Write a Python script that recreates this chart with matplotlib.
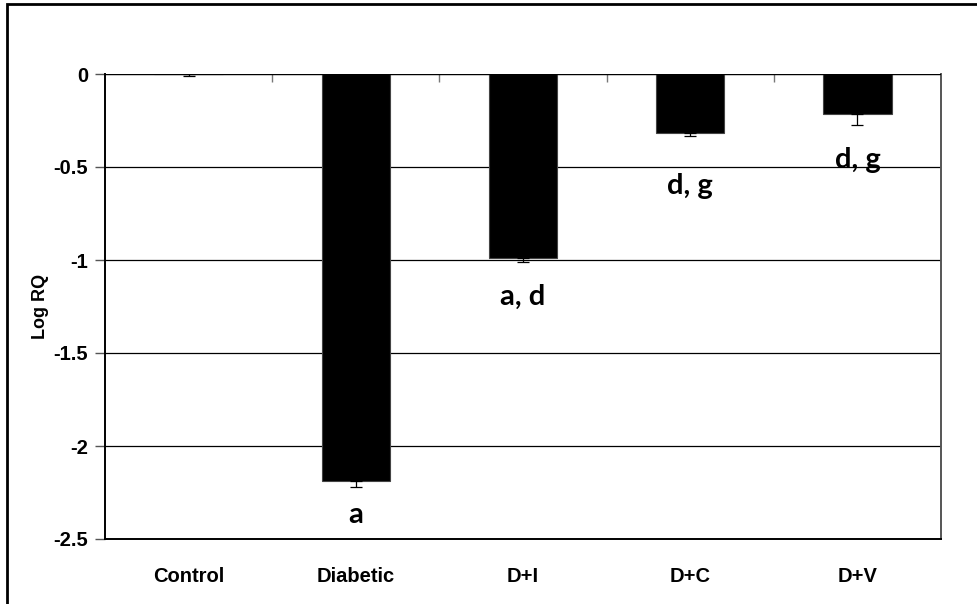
import numpy as np
import matplotlib.pyplot as plt
from matplotlib.patches import Rectangle

groups = ["Control", "Diabetic", "D+I", "D+C", "D+V"]
log_rq = [0.0, -2.19, -0.99, -0.315, -0.215]
err = [0.01, 0.03, 0.02, 0.02, 0.06]
sig_labels = ["", "a", "a, d", "d, g", "d, g"]
sig_y = [0.0, -2.37, -1.2, -0.6, -0.46]

fig = plt.figure(figsize=(9.78, 6.04), dpi=100)
ax = fig.add_axes([105 / 978, 65 / 604, 836 / 978, 465 / 604])

x = np.arange(len(groups))
ax.bar(x, log_rq, width=0.41, color="black", edgecolor="#444444", linewidth=0.8, zorder=3)
ax.errorbar(x, log_rq, yerr=[err, np.zeros(len(err))], fmt="none",
            ecolor="black", elinewidth=0.9, capsize=4, capthick=0.9, zorder=4)

for xi, lab, yl in zip(x, sig_labels, sig_y):
    if lab:
        ax.text(xi, yl, lab, ha="center", va="center", fontsize=21,
                fontweight="bold", family="Lato")

ax.set_xlim(-0.5, len(groups) - 0.5)
ax.set_ylim(-2.5, 0)
ax.set_yticks([0, -0.5, -1, -1.5, -2, -2.5])
ax.set_yticklabels(["0", "-0.5", "-1", "-1.5", "-2", "-2.5"])
ax.grid(axis="y", color="black", linewidth=0.9, zorder=0)
ax.axhline(0, color="black", linewidth=1.6, zorder=5)

ax.set_xticks(x)
ax.set_xticklabels(groups)
ax.tick_params(axis="x", length=0, pad=20)
ax.tick_params(axis="y", length=7, width=1, color="#555555", pad=5)
for lbl in ax.get_xticklabels() + ax.get_yticklabels():
    lbl.set_family("Liberation Sans")
    lbl.set_fontweight("bold")
    lbl.set_fontsize(14.5)

# category boundary ticks along the zero line
ax.set_xticks(np.arange(0.5, len(groups) - 1, 1.0), minor=True)
ax.tick_params(axis="x", which="minor", top=True, bottom=False, direction="in",
               length=6, width=1, color="#777777")

ax.set_ylabel("Log RQ", fontsize=13, fontweight="bold", family="Liberation Sans", labelpad=3)

for side in ["left", "bottom", "right"]:
    ax.spines[side].set_linewidth(1.4)
ax.spines["top"].set_visible(False)
ax.spines["right"].set_color("#555555")

# outer frame
fig.patches.append(Rectangle((7 / 978, -0.1), 1.2, 600 / 604 + 0.1, transform=fig.transFigure,
                             fill=False, edgecolor="black", linewidth=2, clip_on=False))

fig.savefig("out.png", dpi=100)
